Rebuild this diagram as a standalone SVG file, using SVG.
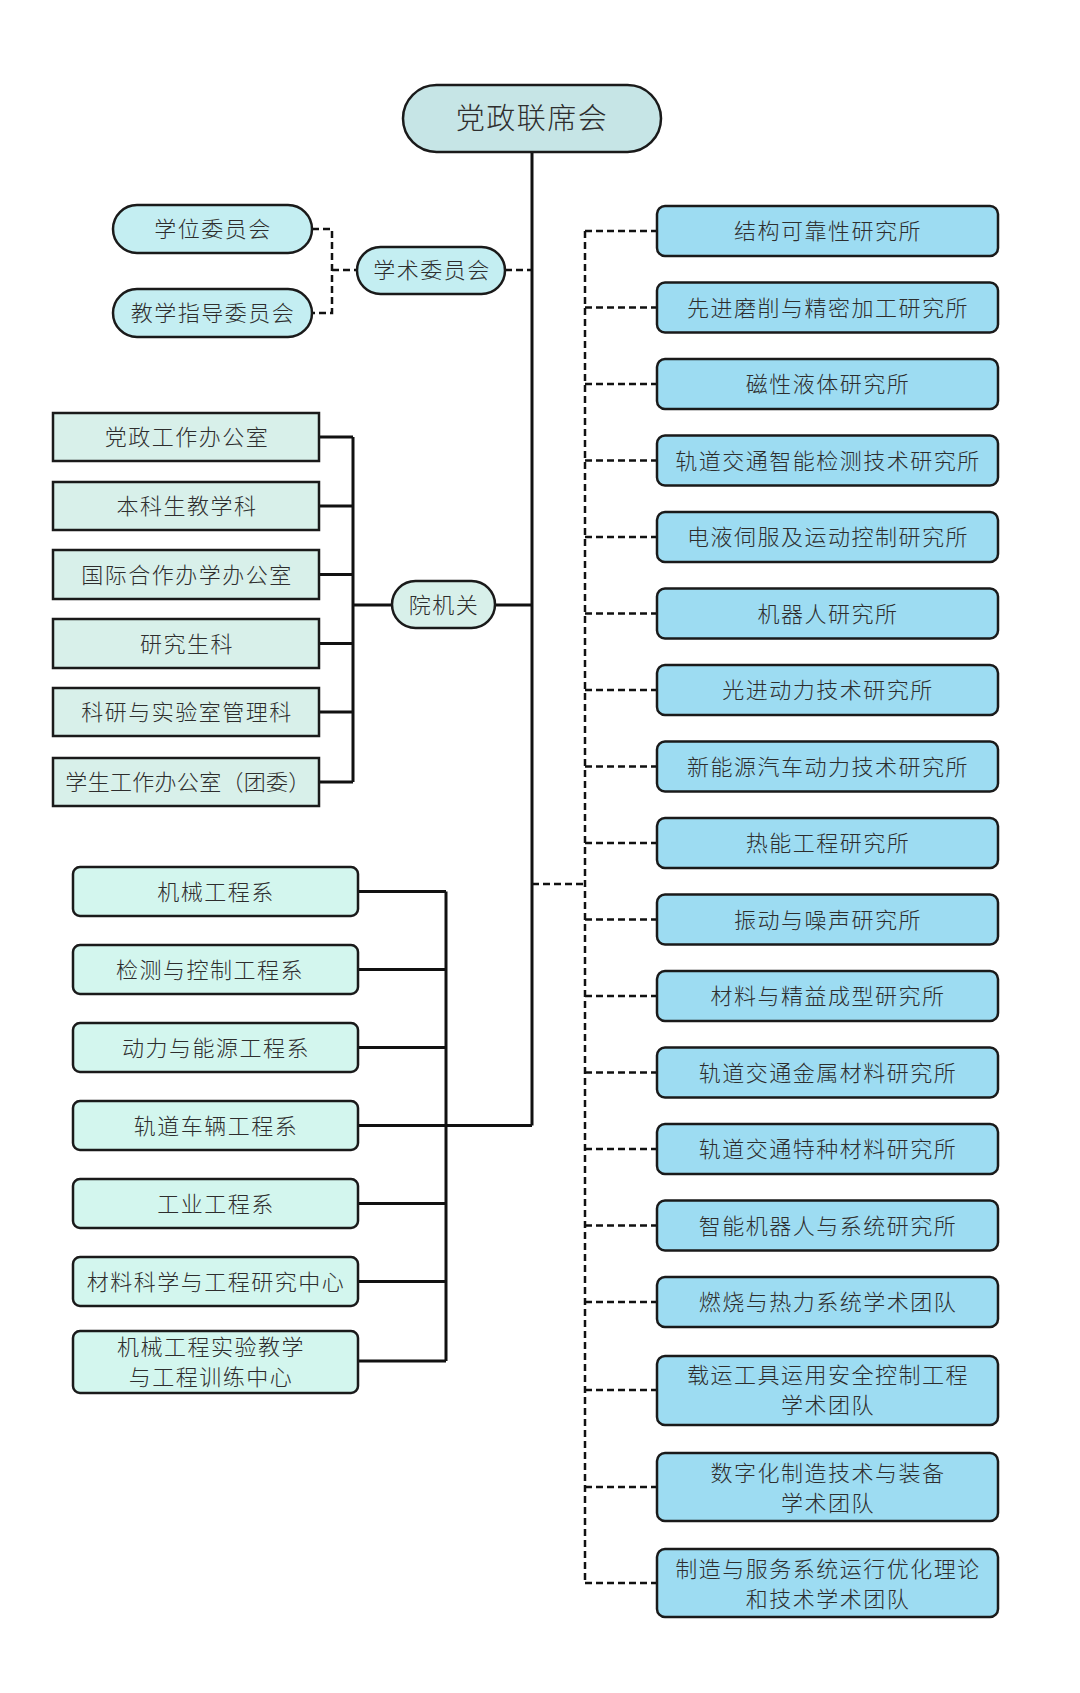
<svg xmlns="http://www.w3.org/2000/svg" width="1080" height="1693" viewBox="0 0 1080 1693">
<style>
text{font-family:"Noto Sans CJK SC","Noto Sans",sans-serif;font-size:22px;font-weight:300;fill:#2e2e2e;text-anchor:middle;letter-spacing:1.5px}
.n{stroke:#1a1a1a;stroke-width:2.5}
.top{fill:#c6e5e6}
.cm{fill:#c4eef2}
.of{fill:#d8f0ea}
.dp{fill:#d3f6ee}
.rs{fill:#9ddcf2}
.s{fill:none;stroke:#111;stroke-width:3}
.d{fill:none;stroke:#111;stroke-width:2.5;stroke-dasharray:7 4}
</style>
<rect width="1080" height="1693" fill="#ffffff"/>
<g id="connectors">
<path class="s" d="M532 152V1125.5"/>
<path class="d" d="M312 229H332V313H312M332 270H357M505 270H532"/>
<path class="s" d="M319 437H353M319 506H353M319 574.5H353M319 643.5H353M319 712H353M319 782H353M353 437V782M353 605H392M495 605H532"/>
<path class="s" d="M358 891.5H446M358 969.5H446M358 1047.5H446M358 1125.5H532M358 1203.5H446M358 1281.5H446M358 1361H446M446 891.5V1361"/>
<path class="d" d="M532 884H585M585 231V1583M585 231H657M585 307.5H657M585 384H657M585 460.5H657M585 537H657M585 613.5H657M585 690H657M585 766.5H657M585 843H657M585 919.5H657M585 996H657M585 1072.5H657M585 1149H657M585 1225.5H657M585 1302H657M585 1390H657M585 1487H657M585 1583H657"/>
</g>
<g id="n-top"><rect class="n top" x="403" y="85" width="258" height="67" rx="33.5"/><text x="532" y="129" style="font-size:29px">党政联席会</text></g>
<g id="n-xuewei"><rect class="n cm" x="113" y="205" width="199" height="48" rx="24"/><text x="213" y="237">学位委员会</text></g>
<g id="n-jiaoxue"><rect class="n cm" x="113" y="289" width="199" height="48" rx="24"/><text x="213" y="321">教学指导委员会</text></g>
<g id="n-xueshu"><rect class="n cm" x="357" y="247" width="148" height="47" rx="23.5"/><text x="432" y="278">学术委员会</text></g>
<g id="n-yjg"><rect class="n of" x="392" y="581" width="103" height="47" rx="23.5"/><text x="444" y="613">院机关</text></g>
<g id="n-o1"><rect class="n of" x="53" y="413" width="266" height="48"/><text x="187" y="445">党政工作办公室</text></g>
<g id="n-o2"><rect class="n of" x="53" y="482" width="266" height="48"/><text x="187" y="514">本科生教学科</text></g>
<g id="n-o3"><rect class="n of" x="53" y="550" width="266" height="49"/><text x="187" y="583">国际合作办学办公室</text></g>
<g id="n-o4"><rect class="n of" x="53" y="619" width="266" height="49"/><text x="187" y="652">研究生科</text></g>
<g id="n-o5"><rect class="n of" x="53" y="688" width="266" height="48"/><text x="187" y="720">科研与实验室管理科</text></g>
<g id="n-o6"><rect class="n of" x="53" y="758" width="266" height="48"/><text x="188" y="790" style="letter-spacing:0.3px">学生工作办公室（团委）</text></g>
<g id="n-d1"><rect class="n dp" x="73" y="867" width="285" height="49" rx="7"/><text x="216" y="900">机械工程系</text></g>
<g id="n-d2"><rect class="n dp" x="73" y="945" width="285" height="49" rx="7"/><text x="210" y="978">检测与控制工程系</text></g>
<g id="n-d3"><rect class="n dp" x="73" y="1023" width="285" height="49" rx="7"/><text x="216" y="1056">动力与能源工程系</text></g>
<g id="n-d4"><rect class="n dp" x="73" y="1101" width="285" height="49" rx="7"/><text x="216" y="1134">轨道车辆工程系</text></g>
<g id="n-d5"><rect class="n dp" x="73" y="1179" width="285" height="49" rx="7"/><text x="216" y="1212">工业工程系</text></g>
<g id="n-d6"><rect class="n dp" x="73" y="1257" width="285" height="49" rx="7"/><text x="216" y="1290">材料科学与工程研究中心</text></g>
<g id="n-d7"><rect class="n dp" x="73" y="1331" width="285" height="62" rx="7"/><text x="211" y="1355">机械工程实验教学</text><text x="211" y="1385">与工程训练中心</text></g>
<g id="n-r1"><rect class="n rs" x="657" y="206" width="341" height="50" rx="8"/><text x="828" y="239">结构可靠性研究所</text></g>
<g id="n-r2"><rect class="n rs" x="657" y="282.5" width="341" height="50" rx="8"/><text x="828" y="315.5">先进磨削与精密加工研究所</text></g>
<g id="n-r3"><rect class="n rs" x="657" y="359" width="341" height="50" rx="8"/><text x="828" y="392">磁性液体研究所</text></g>
<g id="n-r4"><rect class="n rs" x="657" y="435.5" width="341" height="50" rx="8"/><text x="828" y="468.5">轨道交通智能检测技术研究所</text></g>
<g id="n-r5"><rect class="n rs" x="657" y="512" width="341" height="50" rx="8"/><text x="828" y="545">电液伺服及运动控制研究所</text></g>
<g id="n-r6"><rect class="n rs" x="657" y="588.5" width="341" height="50" rx="8"/><text x="828" y="621.5">机器人研究所</text></g>
<g id="n-r7"><rect class="n rs" x="657" y="665" width="341" height="50" rx="8"/><text x="828" y="698">光进动力技术研究所</text></g>
<g id="n-r8"><rect class="n rs" x="657" y="741.5" width="341" height="50" rx="8"/><text x="828" y="774.5">新能源汽车动力技术研究所</text></g>
<g id="n-r9"><rect class="n rs" x="657" y="818" width="341" height="50" rx="8"/><text x="828" y="851">热能工程研究所</text></g>
<g id="n-r10"><rect class="n rs" x="657" y="894.5" width="341" height="50" rx="8"/><text x="828" y="927.5">振动与噪声研究所</text></g>
<g id="n-r11"><rect class="n rs" x="657" y="971" width="341" height="50" rx="8"/><text x="828" y="1004">材料与精益成型研究所</text></g>
<g id="n-r12"><rect class="n rs" x="657" y="1047.5" width="341" height="50" rx="8"/><text x="828" y="1080.5">轨道交通金属材料研究所</text></g>
<g id="n-r13"><rect class="n rs" x="657" y="1124" width="341" height="50" rx="8"/><text x="828" y="1157">轨道交通特种材料研究所</text></g>
<g id="n-r14"><rect class="n rs" x="657" y="1200.5" width="341" height="50" rx="8"/><text x="828" y="1233.5">智能机器人与系统研究所</text></g>
<g id="n-r15"><rect class="n rs" x="657" y="1277" width="341" height="50" rx="8"/><text x="828" y="1310">燃烧与热力系统学术团队</text></g>
<g id="n-r16"><rect class="n rs" x="657" y="1356" width="341" height="69" rx="8"/><text x="828" y="1383">载运工具运用安全控制工程</text><text x="828" y="1413">学术团队</text></g>
<g id="n-r17"><rect class="n rs" x="657" y="1453" width="341" height="68" rx="8"/><text x="828" y="1481">数字化制造技术与装备</text><text x="828" y="1511">学术团队</text></g>
<g id="n-r18"><rect class="n rs" x="657" y="1549" width="341" height="68" rx="8"/><text x="828" y="1577">制造与服务系统运行优化理论</text><text x="828" y="1607">和技术学术团队</text></g>
</svg>
